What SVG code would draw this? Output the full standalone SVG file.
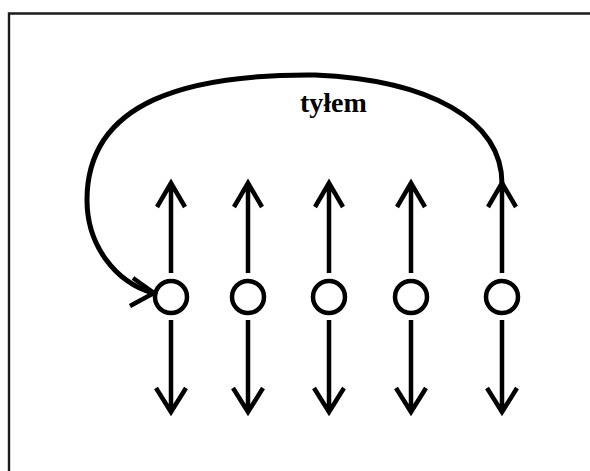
<svg xmlns="http://www.w3.org/2000/svg" width="590" height="471" viewBox="0 0 590 471">
  <style>
    .frame { fill: none; stroke: #1c1c1c; stroke-width: 2.4; }
    .node { fill: #ffffff; stroke: #000000; stroke-width: 4.5; }
    .conn { fill: none; stroke: #000000; stroke-width: 4.5; stroke-linecap: butt; stroke-linejoin: miter; }
    .curve { fill: none; stroke: #000000; stroke-width: 5; stroke-linecap: butt; }
    .label { font-family: "Liberation Serif", "Times New Roman", serif; font-weight: bold; font-size: 28px; fill: #000000; }
  </style>

  <rect width="590" height="471" fill="#ffffff"/>

  <!-- page frame: left and top edges only, running off the sheet -->
  <path class="frame" d="M9,480 V13.5 H600"/>

  <!-- players -->
  <g id="node-1"><circle class="node" cx="171" cy="297" r="16"/></g>
  <g id="node-2"><circle class="node" cx="248" cy="297" r="16"/></g>
  <g id="node-3"><circle class="node" cx="329" cy="297" r="16"/></g>
  <g id="node-4"><circle class="node" cx="411" cy="297" r="16"/></g>
  <g id="node-5"><circle class="node" cx="502" cy="297" r="16"/></g>

  <g id="connectors">
    <!-- forward / backward movement of each player -->
    <g id="up-arrows">
      <path class="conn" d="M171,184 V273 M157,207 L171,183 L185,207"/>
      <path class="conn" d="M248,184 V273 M234,207 L248,183 L262,207"/>
      <path class="conn" d="M329,184 V273 M315,207 L329,183 L343,207"/>
      <path class="conn" d="M411,184 V273 M397,207 L411,183 L425,207"/>
      <path class="conn" d="M502,184 V273 M488,207 L502,183 L516,207"/>
    </g>
    <g id="down-arrows">
      <path class="conn" d="M171,320 V411 M156,388 L171,412 L186,388"/>
      <path class="conn" d="M248,320 V411 M233,388 L248,412 L263,388"/>
      <path class="conn" d="M329,320 V411 M314,388 L329,412 L344,388"/>
      <path class="conn" d="M411,320 V411 M396,388 L411,412 L426,388"/>
      <path class="conn" d="M502,320 V411 M487,388 L502,412 L517,388"/>
    </g>
    <!-- return path of the last player back to the first position -->
    <g id="return-arrow">
      <path class="curve" d="M502,184 C502,120 430,80 315,75 C190,74 87,100 87,200 C87,245 115,282 153,293"/>
      <path class="conn" d="M133,278 L154,293 L130,306"/>
    </g>
  </g>

  <g id="label-tylem">
    <text class="label" x="300" y="112">tyłem</text>
  </g>
</svg>
